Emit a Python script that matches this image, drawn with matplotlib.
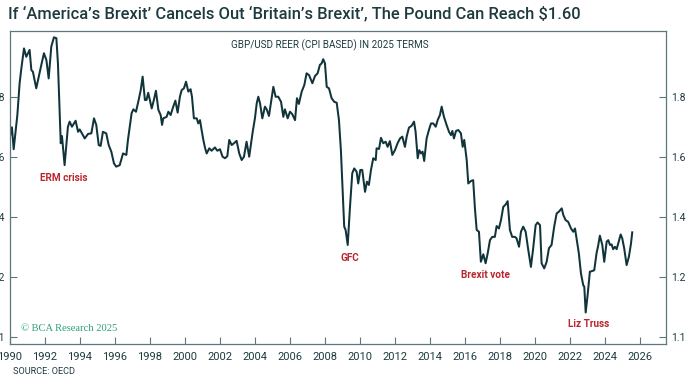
import matplotlib.pyplot as plt

# GBP/USD REER (CPI based) in 2025 terms (decimal years)
years = [
    1990.00, 1990.11, 1990.21, 1990.42, 1990.55, 1990.65, 1990.80, 1990.93,
    1991.12, 1991.22, 1991.31, 1991.50, 1991.70, 1991.79, 1991.94, 1992.08,
    1992.21, 1992.36, 1992.51, 1992.65, 1992.74, 1992.84, 1992.90, 1992.97,
    1993.12, 1993.31, 1993.41, 1993.54, 1993.75, 1993.89, 1993.98, 1994.11,
    1994.27, 1994.46, 1994.65, 1994.80, 1994.93, 1995.07, 1995.18, 1995.31,
    1995.50, 1995.64, 1995.79, 1995.94, 1996.07, 1996.27, 1996.46, 1996.65,
    1996.74, 1996.95, 1997.05, 1997.20, 1997.33, 1997.47, 1997.58, 1997.71,
    1997.80, 1997.90, 1998.10, 1998.23, 1998.34, 1998.48, 1998.61, 1998.69,
    1998.76, 1998.95, 1999.05, 1999.18, 1999.33, 1999.45, 1999.58, 1999.71,
    1999.81, 1999.94, 2000.06, 2000.19, 2000.32, 2000.40, 2000.51, 2000.67,
    2000.76, 2000.86, 2000.95, 2001.05, 2001.14, 2001.24, 2001.39, 2001.52,
    2001.71, 2001.85, 2002.00, 2002.15, 2002.29, 2002.42, 2002.53, 2002.67,
    2002.80, 2002.95, 2003.10, 2003.24, 2003.37, 2003.52, 2003.67, 2003.87,
    2004.00, 2004.10, 2004.19, 2004.29, 2004.42, 2004.57, 2004.67, 2004.80,
    2004.91, 2005.05, 2005.18, 2005.33, 2005.49, 2005.62, 2005.71, 2005.87,
    2006.00, 2006.13, 2006.29, 2006.40, 2006.51, 2006.67, 2006.82, 2006.95,
    2007.09, 2007.28, 2007.43, 2007.58, 2007.71, 2007.81, 2007.90, 2008.00,
    2008.10, 2008.23, 2008.38, 2008.53, 2008.67, 2008.80, 2008.91, 2008.99,
    2009.10, 2009.18, 2009.30, 2009.43, 2009.56, 2009.67, 2009.81, 2009.90,
    2010.02, 2010.13, 2010.29, 2010.40, 2010.51, 2010.63, 2010.76, 2010.90,
    2010.95, 2011.09, 2011.20, 2011.33, 2011.47, 2011.58, 2011.71, 2011.85,
    2012.00, 2012.15, 2012.29, 2012.42, 2012.57, 2012.67, 2012.80, 2012.95,
    2013.09, 2013.18, 2013.30, 2013.39, 2013.49, 2013.58, 2013.67, 2013.81,
    2013.94, 2014.06, 2014.19, 2014.33, 2014.44, 2014.57, 2014.67, 2014.80,
    2014.95, 2015.09, 2015.20, 2015.28, 2015.37, 2015.49, 2015.62, 2015.77,
    2015.87, 2015.96, 2016.10, 2016.19, 2016.34, 2016.47, 2016.57, 2016.67,
    2016.80, 2016.91, 2017.05, 2017.18, 2017.30, 2017.43, 2017.56, 2017.71,
    2017.81, 2017.94, 2018.06, 2018.19, 2018.33, 2018.44, 2018.57, 2018.70,
    2018.86, 2018.95, 2019.09, 2019.20, 2019.33, 2019.47, 2019.62, 2019.77,
    2019.90, 2020.04, 2020.15, 2020.29, 2020.38, 2020.53, 2020.67, 2020.80,
    2020.95, 2021.10, 2021.24, 2021.37, 2021.53, 2021.62, 2021.75, 2021.90,
    2022.06, 2022.19, 2022.29, 2022.38, 2022.51, 2022.63, 2022.76, 2022.82,
    2022.90, 2023.01, 2023.14, 2023.27, 2023.39, 2023.52, 2023.62, 2023.71,
    2023.85, 2023.96, 2024.10, 2024.19, 2024.29, 2024.38, 2024.47, 2024.57,
    2024.67, 2024.76, 2024.90, 2024.99, 2025.10, 2025.24, 2025.37, 2025.49,
    2025.56,
]
reer = [
    1.668, 1.699, 1.626, 1.740, 1.846, 1.896, 1.962, 1.934,
    1.957, 1.890, 1.884, 1.829, 1.884, 1.907, 1.946, 1.923,
    1.862, 1.968, 1.999, 1.996, 1.912, 1.746, 1.646, 1.670,
    1.573, 1.701, 1.718, 1.701, 1.721, 1.684, 1.692, 1.679,
    1.662, 1.677, 1.679, 1.729, 1.707, 1.640, 1.637, 1.684,
    1.679, 1.640, 1.618, 1.579, 1.568, 1.573, 1.612, 1.607,
    1.657, 1.746, 1.759, 1.751, 1.784, 1.823, 1.868, 1.790,
    1.790, 1.814, 1.762, 1.792, 1.821, 1.757, 1.740, 1.707,
    1.729, 1.734, 1.751, 1.740, 1.768, 1.788, 1.748, 1.801,
    1.823, 1.829, 1.851, 1.818, 1.826, 1.801, 1.729, 1.729,
    1.712, 1.723, 1.690, 1.657, 1.632, 1.612, 1.629, 1.621,
    1.632, 1.621, 1.626, 1.601, 1.596, 1.603, 1.657, 1.640,
    1.646, 1.654, 1.612, 1.590, 1.601, 1.651, 1.601, 1.684,
    1.730, 1.779, 1.801, 1.779, 1.729, 1.768, 1.759, 1.737,
    1.779, 1.834, 1.801, 1.801, 1.784, 1.734, 1.759, 1.729,
    1.751, 1.743, 1.723, 1.796, 1.777, 1.818, 1.840, 1.879,
    1.873, 1.846, 1.870, 1.879, 1.907, 1.912, 1.926, 1.912,
    1.834, 1.829, 1.796, 1.784, 1.781, 1.723, 1.623, 1.512,
    1.368, 1.357, 1.307, 1.434, 1.546, 1.562, 1.551, 1.512,
    1.557, 1.557, 1.484, 1.518, 1.507, 1.557, 1.596, 1.590,
    1.629, 1.627, 1.664, 1.646, 1.651, 1.634, 1.653, 1.607,
    1.623, 1.646, 1.662, 1.668, 1.634, 1.668, 1.698, 1.704,
    1.718, 1.684, 1.596, 1.623, 1.612, 1.618, 1.587, 1.662,
    1.690, 1.712, 1.712, 1.701, 1.723, 1.740, 1.768, 1.734,
    1.707, 1.684, 1.673, 1.687, 1.662, 1.687, 1.690, 1.679,
    1.634, 1.657, 1.590, 1.512, 1.520, 1.523, 1.429, 1.357,
    1.351, 1.251, 1.276, 1.246, 1.279, 1.323, 1.334, 1.334,
    1.370, 1.362, 1.390, 1.434, 1.442, 1.453, 1.357, 1.334,
    1.334, 1.329, 1.301, 1.351, 1.368, 1.351, 1.290, 1.234,
    1.296, 1.373, 1.382, 1.373, 1.246, 1.229, 1.251, 1.296,
    1.307, 1.368, 1.412, 1.418, 1.429, 1.407, 1.390, 1.384,
    1.362, 1.351, 1.362, 1.329, 1.279, 1.212, 1.173, 1.168,
    1.082, 1.140, 1.218, 1.220, 1.223, 1.279, 1.307, 1.338,
    1.307, 1.251, 1.318, 1.323, 1.307, 1.309, 1.293, 1.301,
    1.293, 1.312, 1.342, 1.329, 1.296, 1.240, 1.268, 1.312,
    1.349,
]

# Events marked on the chart
event_labels = ['ERM crisis', 'GFC', 'Brexit vote', 'Liz Truss']
event_x = [1993.1, 2009.4, 2017.15, 2023.05]
event_y = [1.53, 1.263, 1.207, 1.043]

# y ticks (the bottom one is labelled 1.1 on the original)
ytick_pos = [1.0, 1.2, 1.4, 1.6, 1.8]
ytick_labels = ['1.1', '1.2', '1.4', '1.6', '1.8']
xticks = list(range(1990, 2027, 2))

line_col = '#11343b'
axis_col = '#5e777b'
text_col = '#1d3a3e'
red = '#b8262f'

plt.rcParams['font.family'] = ['Roboto', 'DejaVu Sans']

fig = plt.figure(figsize=(7, 3.8), dpi=100)
ax = fig.add_axes([10 / 700, 36 / 380, 656 / 700, 313 / 380])

ax.plot(years, reer, color=line_col, lw=1.45, solid_joinstyle='round')

ax.set_xlim(1990, 2027.49)
ax.set_ylim(0.977, 2.02)
ax.set_xticks(xticks)
ax.set_xticklabels([str(y) for y in xticks])
ax.set_yticks(ytick_pos)
ax.set_yticklabels(ytick_labels)
ax.tick_params(axis='y', which='both', left=True, right=True, labelleft=True,
               labelright=True, direction='in', length=5, width=0.8,
               colors=axis_col, labelcolor=text_col, labelsize=7.5, pad=4)
ax.tick_params(axis='x', direction='in', length=5, width=0.8,
               colors=axis_col, labelcolor=text_col, labelsize=8, pad=6)
for s in ax.spines.values():
    s.set_color(axis_col)
    s.set_linewidth(0.9)

# event labels
for lab, x, y in zip(event_labels, event_x, event_y):
    ax.text(x, y, lab, color=red, fontsize=7.2, fontweight='bold',
            ha='center', va='center')

ax.text(0.487, 0.953, 'GBP/USD REER (CPI BASED) IN 2025 TERMS',
        transform=ax.transAxes, ha='center', va='center',
        fontsize=7.1, color=text_col)

ax.text(0.017, 0.05, '\u00a9 BCA Research 2025', transform=ax.transAxes,
        fontsize=7.6, color='#2f9e7c', family='Liberation Serif',
        ha='left', va='center')

fig.text(8 / 700, 1 - 14 / 380,
         'If \u2018America\u2019s Brexit\u2019 Cancels Out \u2018Britain\u2019s Brexit\u2019, '
         'The Pound Can Reach $1.60',
         fontsize=11.9, fontweight='medium', color=text_col,
         ha='left', va='center')
fig.text(13 / 700, 1 - 372 / 380, 'SOURCE: OECD', fontsize=6.6,
         color=text_col, ha='left', va='center')

fig.savefig('out.png', dpi=100)
